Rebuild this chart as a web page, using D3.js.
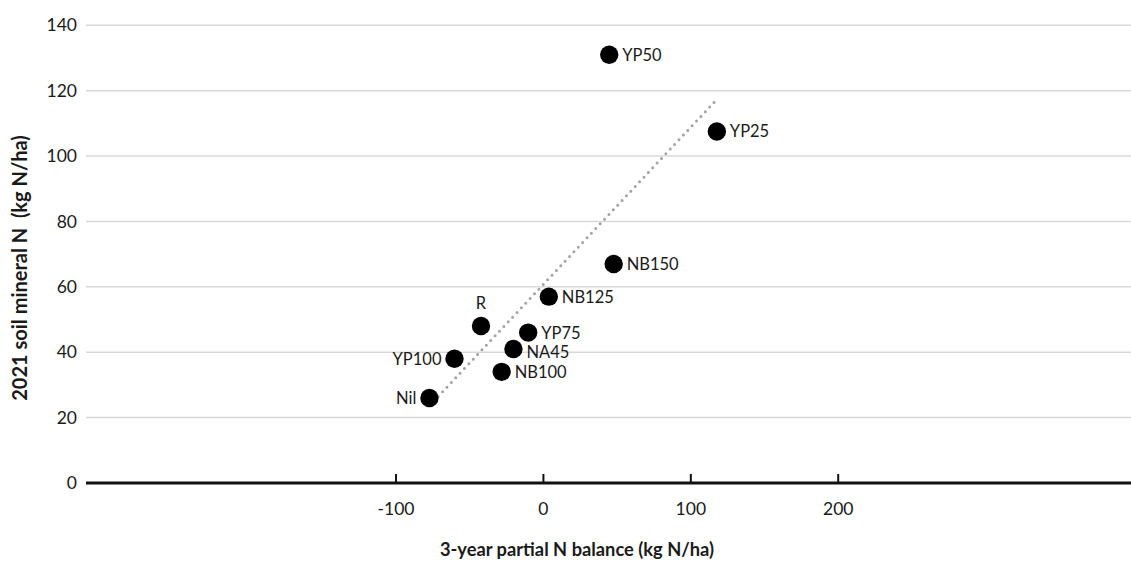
<!DOCTYPE html>
<html>
<head>
<meta charset="utf-8">
<script src="https://cdn.jsdelivr.net/npm/d3@7"></script>
<style>
  html, body { margin: 0; padding: 0; background: #fff; }
  text { font-family: Lato, "Open Sans", sans-serif; fill: #1a1a1a; }
</style>
</head>
<body>
<svg id="chart" width="1131" height="561"></svg>
<script>
// Treatments, 3-year partial N balance (kg N/ha) and 2021 soil mineral N (kg N/ha)
const treatments = ["YP50", "YP25", "NB150", "NB125", "R", "YP75", "NA45", "YP100", "NB100", "Nil"];
const nBalance   = [45, 118, 48, 4, -42, -10, -20, -60, -28, -77];
const soilMinN   = [131, 107.5, 67, 57, 48, 46, 41, 38, 34, 26];
// where each label sits relative to its marker
const labelSide  = ["right", "right", "right", "right", "above", "right", "right-low", "left", "right", "left"];

const xTicks = [-100, 0, 100, 200];
const yTicks = [0, 20, 40, 60, 80, 100, 120, 140];

const xTitle = "3-year partial N balance (kg N/ha)";
const yTitle = "2021 soil mineral N  (kg N/ha)";

const points = treatments.map((t, i) => ({ name: t, x: nBalance[i], y: soilMinN[i], side: labelSide[i] }));

const svg = d3.select("#chart");
const plotLeft = 86, plotRight = 1132.5, plotTop = 25.3, plotBottom = 483;

const x = d3.scaleLinear().domain([-310, 400]).range([plotLeft, plotRight]);
const y = d3.scaleLinear().domain([0, 140]).range([plotBottom, plotTop]);

// horizontal gridlines
svg.append("g")
  .selectAll("line")
  .data(yTicks.filter(d => d !== 0))
  .join("line")
  .attr("x1", plotLeft).attr("x2", 1131)
  .attr("y1", d => y(d)).attr("y2", d => y(d))
  .attr("stroke", "#d9d9d9").attr("stroke-width", 1.5);

// y tick labels
const yAxis = d3.axisLeft(y).tickValues(yTicks).tickSize(0).tickPadding(9).tickFormat(d => String(d));
const gy = svg.append("g").attr("transform", `translate(${plotLeft},0)`).call(yAxis);
gy.select(".domain").remove();
gy.selectAll("text").style("font-size", "17.5px").attr("fill", "#1a1a1a").attr("font-family", null);

// x axis: ticks point upward from the zero line
const xAxis = d3.axisBottom(x).tickValues(xTicks).tickSize(0).tickPadding(20).tickFormat(d => String(d));
const gx = svg.append("g").attr("transform", `translate(0,${y(0)})`).call(xAxis);
gx.select(".domain").remove();
gx.selectAll("text").style("font-size", "17.5px").attr("fill", "#1a1a1a").attr("font-family", null);
gx.selectAll(".tick").append("line")
  .attr("y1", 0).attr("y2", -9)
  .attr("stroke", "#111").attr("stroke-width", 2);
svg.append("line")
  .attr("x1", plotLeft).attr("x2", 1131)
  .attr("y1", y(0)).attr("y2", y(0))
  .attr("stroke", "#111").attr("stroke-width", 2.8);

// least-squares trend line across the range of the points
const mx = d3.mean(points, d => d.x), my = d3.mean(points, d => d.y);
const slope = d3.sum(points, d => (d.x - mx) * (d.y - my)) / d3.sum(points, d => (d.x - mx) ** 2);
const intercept = my - slope * mx;
const [xMin, xMax] = d3.extent(points, d => d.x);
svg.append("line")
  .attr("x1", x(xMin)).attr("y1", y(intercept + slope * xMin))
  .attr("x2", x(xMax)).attr("y2", y(intercept + slope * xMax))
  .attr("stroke", "#a3a3a3").attr("stroke-width", 3)
  .attr("stroke-linecap", "round").attr("stroke-dasharray", "0 6.4");

// markers
svg.append("g")
  .selectAll("circle")
  .data(points)
  .join("circle")
  .attr("cx", d => x(d.x)).attr("cy", d => y(d.y))
  .attr("r", 9.2).attr("fill", "#000");

// labels
svg.append("g")
  .selectAll("text")
  .data(points)
  .join("text")
  .style("font-size", "16.5px")
  .attr("x", d => d.side === "left" ? x(d.x) - 13 : d.side === "above" ? x(d.x) : x(d.x) + 13)
  .attr("y", d => d.side === "above" ? y(d.y) - 17 : d.side === "right-low" ? y(d.y) + 3 : y(d.y))
  .attr("dy", d => d.side === "above" ? "0" : "0.36em")
  .attr("text-anchor", d => d.side === "left" ? "end" : d.side === "above" ? "middle" : "start")
  .text(d => d.name);

// axis titles
svg.append("text")
  .attr("x", 577).attr("y", 556)
  .attr("text-anchor", "middle")
  .style("font-size", "18.3px").style("font-weight", "700")
  .text(xTitle);

svg.append("text")
  .attr("transform", "translate(27,268) rotate(-90)")
  .attr("text-anchor", "middle")
  .style("font-size", "20px").style("font-weight", "700")
  .style("white-space", "pre")
  .text(yTitle);
</script>
</body>
</html>
